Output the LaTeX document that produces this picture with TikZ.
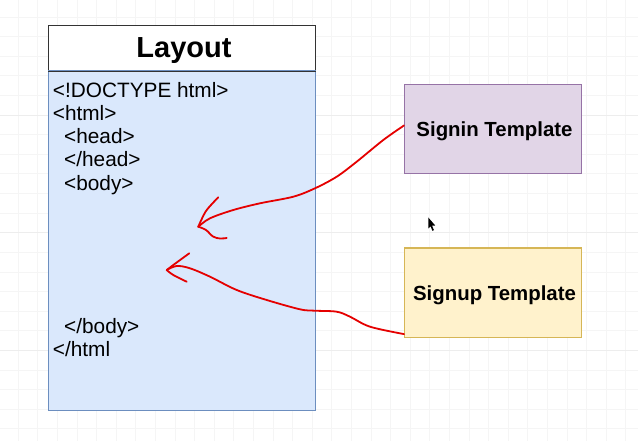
\documentclass[tikz,border=0pt]{standalone}
\usepackage{fontspec}
\setmainfont{Liberation Sans}
\usetikzlibrary{calc}
\begin{document}
\begin{tikzpicture}[x=1pt,y=-1pt,
  code/.style={anchor=base west, inner sep=0pt, font=\fontsize{20.8}{24}\selectfont},
  tmpl/.style={draw, line width=1.2pt, minimum width=177pt, minimum height=89pt, inner sep=0pt},
  ttext/.style={anchor=base, inner sep=0pt, font=\bfseries\fontsize{20.4}{24}\selectfont},
  hand/.style={draw=red!90!black, line width=1.8pt, line cap=round, line join=round}]
\useasboundingbox (0,0) rectangle (638,441);
\fill[white] (0,0) rectangle (638,441);
% faint grid
\foreach \i in {-16,...,15} {
  \draw[black!4, line width=0.6pt] ({331.7+19.6*\i},0) -- ({331.7+19.6*\i},441);
}
\foreach \j in {-5,...,16} {
  \draw[black!4, line width=0.6pt] (0,{115+19.6*\j}) -- (638,{115+19.6*\j});
}
\foreach \j in {0,1,2} {
  \draw[black!7, line width=0.8pt] (0,{115+117.6*\j}) -- (638,{115+117.6*\j});
}
% Layout box
\node[draw=black!80, line width=1.3pt, fill=white, minimum width=267pt, minimum height=45pt, inner sep=0pt, anchor=north west] (head) at (48,25) {};
\node[draw={rgb,255:red,108;green,142;blue,191}, line width=1.2pt, fill={rgb,255:red,218;green,232;blue,252}, minimum width=267pt, minimum height=340pt, inner sep=0pt, anchor=north west] (body) at (48,70) {};
\draw[black!80, line width=1.3pt] (head.south west) -- (head.south east);
\node[anchor=base, inner sep=0pt, font=\bfseries\fontsize{29}{34}\selectfont] (title) at (184,57.5) {Layout};
\node[code] (l1) at (52.7,97.3) {<!DOCTYPE html>};
\node[code] (l2) at (52.7,120.3) {<html>};
\node[code] (l3) at (64,143.6) {<head>};
\node[code] (l4) at (64,166.9) {</head>};
\node[code] (l5) at (64,190.2) {<body>};
\node[code] (l6) at (64,333) {</body>};
\node[code] (l7) at (52.7,356.5) {</html};
% templates
\node[tmpl, draw={rgb,255:red,150;green,115;blue,166}, fill={rgb,255:red,225;green,213;blue,231}, anchor=north west] (signin) at (404,84) {};
\node[ttext] (signintxt) at (494.5,136.7) {Signin Template};
\node[tmpl, draw={rgb,255:red,214;green,182;blue,86}, fill={rgb,255:red,255;green,242;blue,204}, anchor=north west] (signup) at (404,247.5) {};
\node[ttext] (signuptxt) at (494.5,300.5) {Signup Template};
% hand-drawn arrows
\coordinate (s1) at ($(signin.north west)!0.46!(signin.south west)$);
\coordinate (tip1) at (198.3,226.7);
\coordinate (s2) at ($(signup.north west)!0.96!(signup.south west)$);
\coordinate (tip2) at (166.7,270);
\draw[hand] plot[smooth, tension=0.55] coordinates {(s1) (383.3,140) (356.7,161.7) (336.7,176.7) (315,188.3) (293.3,196.7) (260,203.3) (233.3,210) (210,218.3) (tip1)};
\draw[hand] plot[smooth, tension=0.5] coordinates {(218.3,197.3) (206,211) (tip1)};
\draw[hand] plot[smooth, tension=0.6] coordinates {(tip1) (206,230) (213,236.5) (220,238.5) (226.7,238)};
\draw[hand] plot[smooth, tension=0.55] coordinates {(s2) (370,326.7) (350,316.7) (336.7,311.7) (315,310.7) (300,309.3) (266.7,300) (236.7,290) (210,276.7) (190,268.3) (176.7,266) (tip2)};
\draw[hand] plot[smooth, tension=0.5] coordinates {(189.3,253.3) (176,263) (tip2)};
\draw[hand] plot[smooth, tension=0.6] coordinates {(tip2) (173.3,275) (186.7,281.7)};
% mouse cursor
\fill[black] (428.3,217.5) -- (428.3,228.5) -- (430.6,226.3) -- (432.4,230.8) -- (433.9,230.1) -- (432.1,225.7) -- (435.2,225.5) -- cycle;
\end{tikzpicture}
\end{document}
